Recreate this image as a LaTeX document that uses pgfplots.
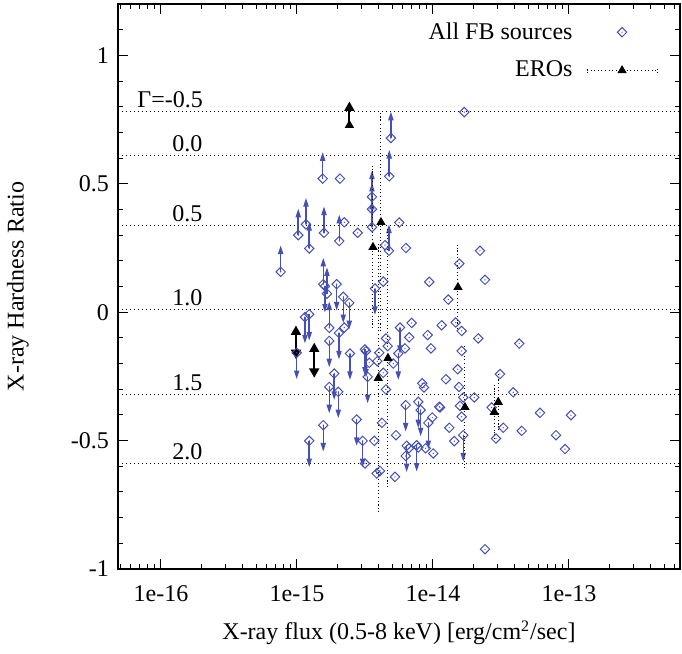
\documentclass[border=0pt]{standalone}
\usepackage{fontspec}
\setmainfont{Liberation Serif}
\usepackage{pgfplots}
\usepackage{pgfplotstable}
\pgfplotsset{compat=1.18}
\usetikzlibrary{arrows.meta}
\definecolor{fb}{RGB}{70,80,180}

\pgfdeclareplotmark{dmd}{%
  \pgfpathmoveto{\pgfqpoint{0pt}{\pgfplotmarksize}}%
  \pgfpathlineto{\pgfqpoint{\pgfplotmarksize}{0pt}}%
  \pgfpathlineto{\pgfqpoint{0pt}{-\pgfplotmarksize}}%
  \pgfpathlineto{\pgfqpoint{-\pgfplotmarksize}{0pt}}%
  \pgfpathclose\pgfusepathqstroke
  \pgfpathcircle{\pgfpointorigin}{0.35pt}\pgfusepathqfill}
% arrowhead: tip at origin, base towards the bar (pgfplots orients it outward)
\pgfdeclareplotmark{ahead}{%
  \pgfpathmoveto{\pgfqpoint{0pt}{0pt}}%
  \pgfpathlineto{\pgfqpoint{-1.4pt}{4.2pt}}%
  \pgfpathlineto{\pgfqpoint{1.4pt}{4.2pt}}%
  \pgfpathclose\pgfusepathqfill}
\pgfdeclareplotmark{bighead}{%
  \pgfpathmoveto{\pgfqpoint{0pt}{0pt}}%
  \pgfpathlineto{\pgfqpoint{-2.6pt}{4.6pt}}%
  \pgfpathlineto{\pgfqpoint{2.6pt}{4.6pt}}%
  \pgfpathclose\pgfusepathqfill}

% sources without limit arrows
\pgfplotstableread{
x y
2.07e-15 0.520
2.228e-15 0.350
2.228e-15 -0.060
2.795e-15 0.309
4.44e-15 0.261
4.31e-15 0.119
4.51e-15 -0.102
4.645e-15 -0.132
4.03e-15 -0.158
3.894e-15 -0.191
3.401e-15 -0.197
4.31e-15 -0.236
4.51e-15 -0.301
5.107e-15 -0.200
4.217e-15 -0.431
3.702e-15 -0.501
3.162e-15 -0.589
3.855e-15 -0.628
4.077e-15 -0.618
5.255e-15 -0.641
5.345e-15 -0.479
5.65e-15 0.349
6.33e-15 0.250
6.97e-15 -0.042
6.69e-15 -0.098
6.225e-15 -0.141
9.14e-15 -0.089
9.67e-15 -0.141
9.39e-15 0.118
8.34e-15 -0.277
8.59e-15 -0.293
9.88e-15 -0.410
1.113e-14 -0.368
6.66e-15 -0.530
7.80e-15 -0.527
6.30e-15 -0.560
8.84e-15 -0.530
1.005e-14 -0.550
1.159e-14 -0.051
1.246e-14 -0.261
1.296e-14 0.049
1.318e-14 -0.450
1.434e-14 -0.502
1.469e-14 -0.040
1.561e-14 0.189
2.216e-14 0.239
2.413e-14 0.126
1.626e-14 -0.073
2.154e-14 -0.102
4.31e-14 -0.122
1.626e-14 -0.151
1.519e-14 -0.222
1.553e-14 -0.291
3.109e-14 -0.241
1.671e-14 -0.332
2.012e-14 -0.332
3.894e-14 -0.312
1.126e-14 -0.371
1.579e-14 -0.365
2.702e-14 -0.371
1.626e-14 -0.407
3.288e-14 -0.450
4.49e-14 -0.462
6.12e-14 -0.392
1.034e-13 -0.401
2.905e-14 -0.492
8.03e-14 -0.479
9.35e-14 -0.533
2.413e-14 -0.923
1.699e-14 0.779
}\nonetab

% lower limits (arrow up)
\pgfplotstableread{
x y
7.59e-16 0.157
1.022e-15 0.300
1.165e-15 0.342
1.231e-15 0.248
1.545e-15 0.520
1.58e-15 0.309
1.561e-15 0.109
1.662e-15 0.072
1.728e-15 -0.061
2.047e-15 0.277
3.56e-15 0.449
3.56e-15 0.401
3.56e-15 0.331
4.91e-15 0.678
4.77e-15 0.529
4.75e-15 0.239
}\uptab

% upper limits (arrow down)
\pgfplotstableread{
x y
0.995e-15 -0.158
1.145e-15 -0.019
1.231e-15 -0.008
1.606e-15 0.101
1.728e-15 -0.112
1.88e-15 -0.239
1.728e-15 -0.291
2.012e-15 -0.310
1.561e-15 -0.440
1.231e-15 -0.501
1.958e-15 0.109
2.19e-15 0.060
2.424e-15 0.036
2.036e-15 -0.081
2.453e-15 -0.161
2.748e-15 -0.418
3.746e-15 0.092
3.162e-15 -0.145
3.217e-15 -0.152
3.311e-15 -0.252
5.56e-15 -0.161
5.72e-15 -0.060
3.042e-15 -0.501
6.30e-15 -0.362
7.80e-15 -0.349
8.12e-15 -0.381
9.24e-15 -0.431
6.41e-15 -0.520
7.59e-15 -0.518
1.671e-14 -0.479
}\downtab

% EROs with error bars
\pgfplotstableread{
x y e
4.147e-15 0.350 0.409
3.622e-15 0.253 0.300
4.669e-15 -0.179 0.486
3.962e-15 -0.257 0.506
1.527e-14 0.097 0.148
1.719e-14 -0.370 0.222
3.021e-14 -0.350 0.093
2.822e-14 -0.389 0.090
}\erotab

\begin{document}
\begin{tikzpicture}[font=\fontsize{12}{14}\selectfont]
\begin{axis}[
  scale only axis, width=281pt, height=282.5pt,
  xmode=log, xmin=4.83e-17, xmax=6.55e-13, ymin=-1, ymax=1.2,
  xtick={1e-16,1e-15,1e-14,1e-13},
  xticklabels={1e-16,1e-15,1e-14,1e-13},
  minor xtick={5e-17,6e-17,7e-17,8e-17,9e-17,2e-16,3e-16,4e-16,5e-16,6e-16,7e-16,8e-16,9e-16,2e-15,3e-15,4e-15,5e-15,6e-15,7e-15,8e-15,9e-15,2e-14,3e-14,4e-14,5e-14,6e-14,7e-14,8e-14,9e-14,2e-13,3e-13,4e-13,5e-13,6e-13},
  ytick={-1,-0.5,0,0.5,1},
  yticklabels={-1,-0.5,0,0.5,1},
  minor ytick={-0.9,-0.8,-0.7,-0.6,-0.4,-0.3,-0.2,-0.1,0.1,0.2,0.3,0.4,0.6,0.7,0.8,0.9,1.1},
  tick align=inside, major tick length=5pt, minor tick length=2.5pt,
  every tick/.style={black, line width=0.5pt},
  axis line style={line width=0.7pt},
  xticklabel style={yshift=-5pt},
  yticklabel style={xshift=-1pt},
  xlabel={X-ray flux (0.5-8 keV) [erg/cm\textsuperscript{2}/sec]},
  ylabel={X-ray Hardness Ratio},
  every axis x label/.style={at={(axis description cs:0.5,-0.113)},anchor=center},
  every axis y label/.style={at={(axis description cs:-0.178,0.5)},rotate=90,anchor=center},
  legend plot pos=right,
  legend style={draw=none, fill=none, at={(axis description cs:1,1)}, anchor=north east,
    xshift=-11pt, yshift=-8pt, inner sep=0pt, row sep=7.5pt,
    nodes={inner sep=1pt}, column sep=6pt},
  legend cell align=right,
]
% Gamma reference lines
\addplot[black, line width=0.5pt, dash pattern=on 0.5pt off 1.5pt, forget plot] coordinates {(4.83e-17,0.782) (6.55e-13,0.782)};
\addplot[black, line width=0.5pt, dash pattern=on 0.5pt off 1.5pt, forget plot] coordinates {(4.83e-17,0.611) (6.55e-13,0.611)};
\addplot[black, line width=0.5pt, dash pattern=on 0.5pt off 1.5pt, forget plot] coordinates {(4.83e-17,0.339) (6.55e-13,0.339)};
\addplot[black, line width=0.5pt, dash pattern=on 0.5pt off 1.5pt, forget plot] coordinates {(4.83e-17,0.012) (6.55e-13,0.012)};
\addplot[black, line width=0.5pt, dash pattern=on 0.5pt off 1.5pt, forget plot] coordinates {(4.83e-17,-0.319) (6.55e-13,-0.319)};
\addplot[black, line width=0.5pt, dash pattern=on 0.5pt off 1.5pt, forget plot] coordinates {(4.83e-17,-0.588) (6.55e-13,-0.588)};
\node[anchor=base west, inner sep=0pt, yshift=2pt] at (axis cs:6.67e-17,0.782) {Γ=-0.5};
\node[anchor=base west, inner sep=0pt, yshift=2pt] at (axis cs:1.205e-16,0.611) {0.0};
\node[anchor=base west, inner sep=0pt, yshift=2pt] at (axis cs:1.205e-16,0.339) {0.5};
\node[anchor=base west, inner sep=0pt, yshift=2pt] at (axis cs:1.205e-16,0.012) {1.0};
\node[anchor=base west, inner sep=0pt, yshift=2pt] at (axis cs:1.205e-16,-0.319) {1.5};
\node[anchor=base west, inner sep=0pt, yshift=2pt] at (axis cs:1.205e-16,-0.588) {2.0};

% All FB sources
\addplot[fb, only marks, mark=dmd, mark size=2.35pt, line width=0.5pt,
  legend image code/.code={\path (0pt,0pt) (35pt,0pt); \draw[only marks] plot coordinates {(17.5pt,0pt)};}]
  table {\nonetab};
\addlegendentry{All FB sources}
\addplot[fb, only marks, mark=dmd, mark size=2.35pt, line width=0.5pt, forget plot,
  error bars/.cd, y dir=plus, y fixed=0.0856,
  error bar style={fb, line width=0.75pt}, error mark=ahead]
  table {\uptab};
\addplot[fb, only marks, mark=dmd, mark size=2.35pt, line width=0.5pt, forget plot,
  error bars/.cd, y dir=minus, y fixed=0.0856,
  error bar style={fb, line width=0.75pt}, error mark=ahead]
  table {\downtab};

% EROs
\addplot[black, only marks, mark=triangle*, mark size=2.3pt,
  legend image code/.code={%
    \draw[black, line width=0.5pt, dash pattern=on 0.5pt off 1.3pt] (0pt,0pt)--(35pt,0pt) (0pt,-1.5pt)--(0pt,1.5pt) (35pt,-1.5pt)--(35pt,1.5pt);
    \fill[black] (17.5pt,2.3pt) -- (15.5pt,-1.15pt) -- (19.5pt,-1.15pt) -- cycle;},
  error bars/.cd, y dir=both, y explicit,
  error bar style={black, line width=0.5pt, dash pattern=on 0.5pt off 1.3pt},
  error mark options={black, line width=0.5pt, mark size=2pt, dash pattern=on 0.5pt off 1pt}]
  table[y error=e] {\erotab};
\addlegendentry{EROs}
\addplot[black, only marks, mark=triangle*, mark size=2.3pt, forget plot,
  error bars/.cd, y dir=plus, y explicit,
  error bar style={black, line width=1pt, solid}, error mark=bighead]
  coordinates {(2.43e-15,0.728) +- (0,0.074)};
\addplot[black, draw=none, mark=none, forget plot,
  error bars/.cd, y dir=both, y explicit,
  error bar style={black, line width=1pt, solid}, error mark=bighead]
  coordinates {(0.983e-15,-0.117) +- (0,0.047) (1.34e-15,-0.187) +- (0,0.05)};
\end{axis}
\pgfresetboundingbox
\useasboundingbox ([shift={(-59pt,-42pt)}]current axis.south west) rectangle ([shift={(1pt,2pt)}]current axis.north east);
\end{tikzpicture}
\end{document}
